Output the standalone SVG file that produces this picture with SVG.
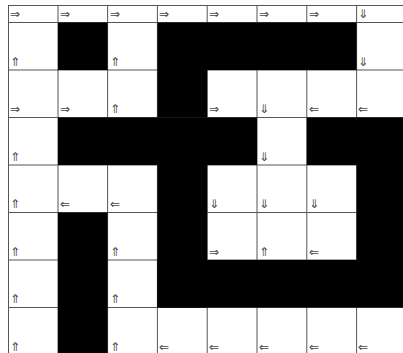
<svg xmlns="http://www.w3.org/2000/svg" width="403" height="353" viewBox="0 0 403 353">
<style>
.g{stroke:#555;stroke-width:1;fill:none}
.b{fill:#000}
text{font-family:"DejaVu Sans",sans-serif;font-size:12px;fill:#444}
.r{opacity:0.99}
</style>
<rect width="403" height="353" fill="#fff"/>
<g id="grid" class="g">
<path d="M8.5 5.5V360M58 5.5V360M107.6 5.5V360M157.4 5.5V360M207.2 5.5V360M257 5.5V360M306.8 5.5V360M356.6 5.5V360"/>
<path d="M8 5.5H410M8 22.5H410M8 70H410M8 117.5H410M8 165H410M8 212.5H410M8 260H410M8 307.5H410"/>
</g>
<g id="walls" class="b">
<rect x="58" y="22.5" width="49.6" height="47.5"/>
<rect x="157.4" y="22.5" width="199.2" height="47.5"/>
<rect x="157.4" y="70" width="49.8" height="47.5"/>
<rect x="58" y="117.5" width="199" height="47.5"/>
<rect x="306.8" y="117.5" width="100" height="47.5"/>
<rect x="157.4" y="165" width="49.8" height="142.5"/>
<rect x="356.6" y="165" width="50" height="95"/>
<rect x="157.4" y="260" width="250" height="47.5"/>
<rect x="58" y="212.5" width="49.6" height="145"/>
</g>
<g id="row0" class="r">
<text x="10" y="18">⇒</text><text x="60" y="18">⇒</text><text x="110" y="18">⇒</text><text x="159" y="18">⇒</text><text x="209" y="18">⇒</text><text x="259" y="18">⇒</text><text x="309" y="18">⇒</text><text x="358" y="18">⇓</text>
</g>
<g id="row1" class="r">
<text x="10" y="66">⇑</text><text x="110" y="66">⇑</text><text x="358" y="66">⇓</text>
</g>
<g id="row2" class="r">
<text x="10" y="113">⇒</text><text x="60" y="113">⇒</text><text x="110" y="113">⇑</text><text x="209" y="113">⇒</text><text x="259" y="113">⇓</text><text x="309" y="113">⇐</text><text x="358" y="113">⇐</text>
</g>
<g id="row3" class="r">
<text x="10" y="161">⇑</text><text x="259" y="161">⇓</text>
</g>
<g id="row4" class="r">
<text x="10" y="208">⇑</text><text x="60" y="208">⇐</text><text x="110" y="208">⇐</text><text x="209" y="208">⇓</text><text x="259" y="208">⇓</text><text x="309" y="208">⇓</text>
</g>
<g id="row5" class="r">
<text x="10" y="256">⇑</text><text x="110" y="256">⇑</text><text x="209" y="256">⇒</text><text x="259" y="256">⇑</text><text x="309" y="256">⇐</text>
</g>
<g id="row6" class="r">
<text x="10" y="303">⇑</text><text x="110" y="303">⇑</text>
</g>
<g id="row7" class="r">
<text x="10" y="351">⇑</text><text x="110" y="351">⇑</text><text x="159" y="351">⇐</text><text x="209" y="351">⇐</text><text x="259" y="351">⇐</text><text x="309" y="351">⇐</text><text x="358" y="351">⇐</text>
</g>
</svg>
